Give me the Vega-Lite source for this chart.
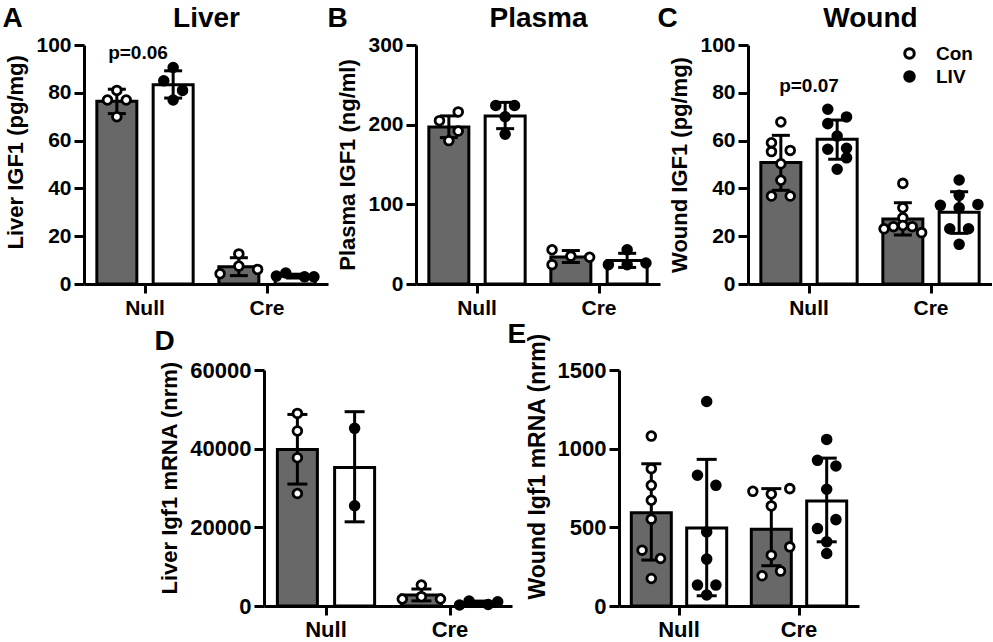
{
  "$schema": "https://vega.github.io/schema/vega-lite/v6.json",
  "background": "white",
  "padding": {"left": 2, "top": 4, "right": 0, "bottom": 0},
  "config": {
    "font": "Liberation Sans",
    "view": {"stroke": null},
    "axis": {"domainColor": "black", "domainWidth": 3, "tickColor": "black", "tickWidth": 3, "labelFont": "Liberation Sans", "labelFontWeight": "bold", "labelFontSize": 21, "labelColor": "black", "titleFont": "Liberation Sans", "titleFontWeight": "bold", "titleFontSize": 22, "titleColor": "black", "grid": false},
    "axisX": {"tickSize": 9, "labelPadding": 4, "labelAngle": 0},
    "axisY": {"tickSize": 10, "labelPadding": 3, "titlePadding": 8}
  },
  "datasets": {
    "A_pts": [
      {"cat": "Null", "group": "Con", "col": "Con", "v": 81},
      {"cat": "Null", "group": "Con", "col": "Con-1", "v": 77},
      {"cat": "Null", "group": "Con", "col": "Con+1", "v": 77},
      {"cat": "Null", "group": "Con", "col": "Con", "v": 70},
      {"cat": "Null", "group": "LIV", "col": "LIV", "v": 90.6},
      {"cat": "Null", "group": "LIV", "col": "LIV-1", "v": 85},
      {"cat": "Null", "group": "LIV", "col": "LIV+1", "v": 81},
      {"cat": "Null", "group": "LIV", "col": "LIV", "v": 77},
      {"cat": "Cre", "group": "Con", "col": "Con", "v": 12.6},
      {"cat": "Cre", "group": "Con", "col": "Con", "v": 7.5},
      {"cat": "Cre", "group": "Con", "col": "Con-2", "v": 4.3},
      {"cat": "Cre", "group": "Con", "col": "Con+2", "v": 6.1},
      {"cat": "Cre", "group": "LIV", "col": "LIV-2", "v": 3.3},
      {"cat": "Cre", "group": "LIV", "col": "LIV-1", "v": 4.6},
      {"cat": "Cre", "group": "LIV", "col": "LIV+1", "v": 3.0},
      {"cat": "Cre", "group": "LIV", "col": "LIV+2", "v": 3.0}
    ],
    "A_sum": [
      {"cat": "Null", "group": "Con", "mean": 76.5, "lo": 71.3, "hi": 81.5},
      {"cat": "Null", "group": "LIV", "mean": 83.4, "lo": 77.8, "hi": 89.2},
      {"cat": "Cre", "group": "Con", "mean": 7.2, "lo": 3.5, "hi": 11.0},
      {"cat": "Cre", "group": "LIV", "mean": 3.3, "lo": 2.5, "hi": 4.1}
    ],
    "A_p": [{"cat": "Null", "label": "p=0.06", "v": 94}],
    "B_pts": [
      {"cat": "Null", "group": "Con", "col": "Con+1", "v": 216},
      {"cat": "Null", "group": "Con", "col": "Con-1", "v": 205},
      {"cat": "Null", "group": "Con", "col": "Con+1", "v": 192},
      {"cat": "Null", "group": "Con", "col": "Con", "v": 180},
      {"cat": "Null", "group": "LIV", "col": "LIV-1", "v": 224},
      {"cat": "Null", "group": "LIV", "col": "LIV+1", "v": 224},
      {"cat": "Null", "group": "LIV", "col": "LIV", "v": 210},
      {"cat": "Null", "group": "LIV", "col": "LIV", "v": 188},
      {"cat": "Cre", "group": "Con", "col": "Con-2", "v": 43},
      {"cat": "Cre", "group": "Con", "col": "Con", "v": 35},
      {"cat": "Cre", "group": "Con", "col": "Con+2", "v": 33.6},
      {"cat": "Cre", "group": "Con", "col": "Con-2", "v": 24.3},
      {"cat": "Cre", "group": "LIV", "col": "LIV", "v": 43},
      {"cat": "Cre", "group": "LIV", "col": "LIV-2", "v": 24.3},
      {"cat": "Cre", "group": "LIV", "col": "LIV", "v": 24.3},
      {"cat": "Cre", "group": "LIV", "col": "LIV+2", "v": 26.4}
    ],
    "B_sum": [
      {"cat": "Null", "group": "Con", "mean": 197, "lo": 183.8, "hi": 211},
      {"cat": "Null", "group": "LIV", "mean": 211, "lo": 195, "hi": 228},
      {"cat": "Cre", "group": "Con", "mean": 34, "lo": 27, "hi": 42},
      {"cat": "Cre", "group": "LIV", "mean": 29.5, "lo": 20.8, "hi": 38.5}
    ],
    "C_pts": [
      {"cat": "Null", "group": "Con", "col": "Con", "v": 67.8},
      {"cat": "Null", "group": "Con", "col": "Con-1", "v": 59.1},
      {"cat": "Null", "group": "Con", "col": "Con-1", "v": 55.4},
      {"cat": "Null", "group": "Con", "col": "Con+1", "v": 55.9},
      {"cat": "Null", "group": "Con", "col": "Con", "v": 50.3},
      {"cat": "Null", "group": "Con", "col": "Con", "v": 43.4},
      {"cat": "Null", "group": "Con", "col": "Con-1", "v": 36.8},
      {"cat": "Null", "group": "Con", "col": "Con+1", "v": 36.8},
      {"cat": "Null", "group": "LIV", "col": "LIV-1", "v": 73.1},
      {"cat": "Null", "group": "LIV", "col": "LIV+1", "v": 69.9},
      {"cat": "Null", "group": "LIV", "col": "LIV-1", "v": 67.1},
      {"cat": "Null", "group": "LIV", "col": "LIV", "v": 61.9},
      {"cat": "Null", "group": "LIV", "col": "LIV-1", "v": 56.4},
      {"cat": "Null", "group": "LIV", "col": "LIV+1", "v": 56.8},
      {"cat": "Null", "group": "LIV", "col": "LIV+1", "v": 52.8},
      {"cat": "Null", "group": "LIV", "col": "LIV", "v": 48},
      {"cat": "Cre", "group": "Con", "col": "Con", "v": 42.1},
      {"cat": "Cre", "group": "Con", "col": "Con", "v": 31.9},
      {"cat": "Cre", "group": "Con", "col": "Con", "v": 27.7},
      {"cat": "Cre", "group": "Con", "col": "Con-2", "v": 23.1},
      {"cat": "Cre", "group": "Con", "col": "Con-1", "v": 24},
      {"cat": "Cre", "group": "Con", "col": "Con", "v": 24.5},
      {"cat": "Cre", "group": "Con", "col": "Con+1", "v": 24},
      {"cat": "Cre", "group": "Con", "col": "Con+2", "v": 21.5},
      {"cat": "Cre", "group": "LIV", "col": "LIV", "v": 43.5},
      {"cat": "Cre", "group": "LIV", "col": "LIV", "v": 37.1},
      {"cat": "Cre", "group": "LIV", "col": "LIV-2", "v": 32.9},
      {"cat": "Cre", "group": "LIV", "col": "LIV", "v": 31.9},
      {"cat": "Cre", "group": "LIV", "col": "LIV+2", "v": 33.3},
      {"cat": "Cre", "group": "LIV", "col": "LIV-1", "v": 23.1},
      {"cat": "Cre", "group": "LIV", "col": "LIV+1", "v": 23.1},
      {"cat": "Cre", "group": "LIV", "col": "LIV", "v": 16.6}
    ],
    "C_sum": [
      {"cat": "Null", "group": "Con", "mean": 50.8, "lo": 39.2, "hi": 62.2},
      {"cat": "Null", "group": "LIV", "mean": 60.6, "lo": 52.2, "hi": 68.6},
      {"cat": "Cre", "group": "Con", "mean": 27.2, "lo": 20.5, "hi": 34.0},
      {"cat": "Cre", "group": "LIV", "mean": 30.0, "lo": 21.2, "hi": 38.6}
    ],
    "C_p": [{"cat": "Null", "label": "p=0.07", "v": 80.5}],
    "D_pts": [
      {"cat": "Null", "group": "Con", "col": "Con", "v": 48970},
      {"cat": "Null", "group": "Con", "col": "Con", "v": 44500},
      {"cat": "Null", "group": "Con", "col": "Con", "v": 37700},
      {"cat": "Null", "group": "Con", "col": "Con", "v": 28600},
      {"cat": "Null", "group": "LIV", "col": "LIV", "v": 45160},
      {"cat": "Null", "group": "LIV", "col": "LIV", "v": 25500},
      {"cat": "Cre", "group": "Con", "col": "Con", "v": 5340},
      {"cat": "Cre", "group": "Con", "col": "Con-2", "v": 1780},
      {"cat": "Cre", "group": "Con", "col": "Con", "v": 2370},
      {"cat": "Cre", "group": "Con", "col": "Con+2", "v": 1780},
      {"cat": "Cre", "group": "LIV", "col": "LIV-2", "v": 250},
      {"cat": "Cre", "group": "LIV", "col": "LIV-1", "v": 1270},
      {"cat": "Cre", "group": "LIV", "col": "LIV+1", "v": 400},
      {"cat": "Cre", "group": "LIV", "col": "LIV+2", "v": 1090}
    ],
    "D_sum": [
      {"cat": "Null", "group": "Con", "mean": 39800, "lo": 31000, "hi": 48700},
      {"cat": "Null", "group": "LIV", "mean": 35200, "lo": 21400, "hi": 49400},
      {"cat": "Cre", "group": "Con", "mean": 2800, "lo": 1300, "hi": 4320},
      {"cat": "Cre", "group": "LIV", "mean": 750, "lo": 250, "hi": 1250}
    ],
    "E_pts": [
      {"cat": "Null", "group": "Con", "col": "Con", "v": 1080},
      {"cat": "Null", "group": "Con", "col": "Con", "v": 873},
      {"cat": "Null", "group": "Con", "col": "Con", "v": 767},
      {"cat": "Null", "group": "Con", "col": "Con", "v": 672},
      {"cat": "Null", "group": "Con", "col": "Con", "v": 552},
      {"cat": "Null", "group": "Con", "col": "Con-1", "v": 355},
      {"cat": "Null", "group": "Con", "col": "Con+1", "v": 302},
      {"cat": "Null", "group": "Con", "col": "Con", "v": 175},
      {"cat": "Null", "group": "LIV", "col": "LIV", "v": 1300},
      {"cat": "Null", "group": "LIV", "col": "LIV-1", "v": 831},
      {"cat": "Null", "group": "LIV", "col": "LIV+1", "v": 767},
      {"cat": "Null", "group": "LIV", "col": "LIV", "v": 471},
      {"cat": "Null", "group": "LIV", "col": "LIV", "v": 298},
      {"cat": "Null", "group": "LIV", "col": "LIV-1", "v": 133},
      {"cat": "Null", "group": "LIV", "col": "LIV+1", "v": 133},
      {"cat": "Null", "group": "LIV", "col": "LIV", "v": 70},
      {"cat": "Cre", "group": "Con", "col": "Con-2", "v": 729},
      {"cat": "Cre", "group": "Con", "col": "Con", "v": 712},
      {"cat": "Cre", "group": "Con", "col": "Con+2", "v": 746},
      {"cat": "Cre", "group": "Con", "col": "Con", "v": 636},
      {"cat": "Cre", "group": "Con", "col": "Con+2", "v": 376},
      {"cat": "Cre", "group": "Con", "col": "Con", "v": 323},
      {"cat": "Cre", "group": "Con", "col": "Con-1", "v": 192},
      {"cat": "Cre", "group": "Con", "col": "Con+1", "v": 222},
      {"cat": "Cre", "group": "LIV", "col": "LIV", "v": 1059},
      {"cat": "Cre", "group": "LIV", "col": "LIV-1", "v": 926},
      {"cat": "Cre", "group": "LIV", "col": "LIV+1", "v": 890},
      {"cat": "Cre", "group": "LIV", "col": "LIV", "v": 742},
      {"cat": "Cre", "group": "LIV", "col": "LIV-1", "v": 492},
      {"cat": "Cre", "group": "LIV", "col": "LIV+1", "v": 549},
      {"cat": "Cre", "group": "LIV", "col": "LIV", "v": 408},
      {"cat": "Cre", "group": "LIV", "col": "LIV", "v": 334}
    ],
    "E_sum": [
      {"cat": "Null", "group": "Con", "mean": 592, "lo": 292, "hi": 904},
      {"cat": "Null", "group": "LIV", "mean": 495, "lo": 65, "hi": 932},
      {"cat": "Cre", "group": "Con", "mean": 488, "lo": 256, "hi": 746},
      {"cat": "Cre", "group": "LIV", "mean": 668, "lo": 408, "hi": 940}
    ]
  },
  "spacing": 2,
  "resolve": {"scale": {"fill": "independent", "xOffset": "independent"}, "legend": {"fill": "independent"}},
  "vconcat": [
    {
      "bounds": "flush",
      "spacing": 88,
      "resolve": {"scale": {"fill": "independent", "xOffset": "independent"}, "legend": {"fill": "independent"}},
      "hconcat": [
        {
          "width": 244, "height": 239,
          "resolve": {"axis": {"x": "independent", "y": "independent"}},
          "layer": [
            {"data": {"name": "A_sum"}, "mark": {"type": "bar", "width": 40, "stroke": "black", "strokeWidth": 3},
             "encoding": {
               "x": {"field": "cat", "type": "nominal", "sort": ["Null", "Cre"], "scale": {"domain": ["Null", "Cre"], "paddingInner": 0, "paddingOuter": 0}, "axis": {"orient": "bottom", "title": null}},
               "xOffset": {"field": "group", "type": "nominal", "scale": {"domain": ["Con-2", "Con-1", "Con", "Con+1", "Con+2", "gap", "LIV-2", "LIV-1", "LIV", "LIV+1", "LIV+2"], "paddingInner": 0, "paddingOuter": 1.535}},
               "y": {"field": "mean", "type": "quantitative", "scale": {"domain": [0, 100], "nice": false}, "axis": {"orient": "left", "title": "Liver IGF1 (pg/mg)", "values": [0, 20, 40, 60, 80, 100], "titleAlign": "left", "titleY": 204}},
               "fill": {"condition": {"test": "datum.group === 'Con'", "value": "#686868"}, "value": "white"}
             }},
            {"data": {"name": "A_sum"}, "mark": {"type": "rule", "strokeWidth": 3, "color": "black"},
             "encoding": {
               "x": {"field": "cat", "type": "nominal", "sort": ["Null", "Cre"], "axis": {"orient": "top", "title": "Liver", "domain": false, "ticks": false, "labels": false, "titleX": 122, "titleY": -19, "titleAlign": "center", "titleBaseline": "alphabetic", "titleFontSize": 28}},
               "xOffset": {"field": "group", "type": "nominal"},
               "y": {"field": "lo", "type": "quantitative", "axis": {"orient": "right", "title": "A", "domain": false, "ticks": false, "labels": false, "titleAngle": 0, "titleX": -326, "titleY": -19, "titleAlign": "left", "titleBaseline": "alphabetic", "titleFontSize": 28}},
               "y2": {"field": "hi"}}},
            {"data": {"name": "A_sum"}, "mark": {"type": "tick", "thickness": 3, "size": 18, "color": "black", "opacity": 1},
             "encoding": {"x": {"field": "cat", "type": "nominal", "sort": ["Null", "Cre"], "axis": null}, "xOffset": {"field": "group", "type": "nominal"}, "y": {"field": "hi", "type": "quantitative", "axis": null}}},
            {"data": {"name": "A_sum"}, "mark": {"type": "tick", "thickness": 3, "size": 18, "color": "black", "opacity": 1},
             "encoding": {"x": {"field": "cat", "type": "nominal", "sort": ["Null", "Cre"], "axis": null}, "xOffset": {"field": "group", "type": "nominal"}, "y": {"field": "lo", "type": "quantitative", "axis": null}}},
            {"data": {"name": "A_pts"}, "mark": {"type": "point", "shape": "circle", "filled": true, "size": 76, "stroke": "black", "strokeWidth": 2.8, "opacity": 1},
             "encoding": {"x": {"field": "cat", "type": "nominal", "sort": ["Null", "Cre"], "axis": null}, "xOffset": {"field": "col", "type": "nominal"}, "y": {"field": "v", "type": "quantitative", "axis": null},
               "fill": {"condition": {"test": "datum.group === 'Con'", "value": "white"}, "value": "black"}}},
            {"data": {"name": "A_p"}, "mark": {"type": "text", "fontSize": 19, "fontWeight": "bold", "baseline": "alphabetic", "color": "black", "dx": -7},
             "encoding": {"x": {"field": "cat", "type": "nominal", "sort": ["Null", "Cre"], "axis": null}, "y": {"field": "v", "type": "quantitative", "axis": null}, "text": {"field": "label"}}}
          ]
        },
        {
          "width": 244, "height": 239,
          "resolve": {"axis": {"x": "independent", "y": "independent"}},
          "layer": [
            {"data": {"name": "B_sum"}, "mark": {"type": "bar", "width": 40, "stroke": "black", "strokeWidth": 3},
             "encoding": {
               "x": {"field": "cat", "type": "nominal", "sort": ["Null", "Cre"], "scale": {"domain": ["Null", "Cre"], "paddingInner": 0, "paddingOuter": 0}, "axis": {"orient": "bottom", "title": null}},
               "xOffset": {"field": "group", "type": "nominal", "scale": {"domain": ["Con-2", "Con-1", "Con", "Con+1", "Con+2", "gap", "LIV-2", "LIV-1", "LIV", "LIV+1", "LIV+2"], "paddingInner": 0, "paddingOuter": 1.535}},
               "y": {"field": "mean", "type": "quantitative", "scale": {"domain": [0, 300], "nice": false}, "axis": {"orient": "left", "title": "Plasma IGF1 (ng/ml)", "values": [0, 100, 200, 300]}},
               "fill": {"condition": {"test": "datum.group === 'Con'", "value": "#686868"}, "value": "white"}
             }},
            {"data": {"name": "B_sum"}, "mark": {"type": "rule", "strokeWidth": 3, "color": "black"},
             "encoding": {
               "x": {"field": "cat", "type": "nominal", "sort": ["Null", "Cre"], "axis": {"orient": "top", "title": "Plasma", "domain": false, "ticks": false, "labels": false, "titleX": 122, "titleY": -19, "titleAlign": "center", "titleBaseline": "alphabetic", "titleFontSize": 28}},
               "xOffset": {"field": "group", "type": "nominal"},
               "y": {"field": "lo", "type": "quantitative", "axis": {"orient": "right", "title": "B", "domain": false, "ticks": false, "labels": false, "titleAngle": 0, "titleX": -333, "titleY": -19, "titleAlign": "left", "titleBaseline": "alphabetic", "titleFontSize": 28}},
               "y2": {"field": "hi"}}},
            {"data": {"name": "B_sum"}, "mark": {"type": "tick", "thickness": 3, "size": 18, "color": "black", "opacity": 1},
             "encoding": {"x": {"field": "cat", "type": "nominal", "sort": ["Null", "Cre"], "axis": null}, "xOffset": {"field": "group", "type": "nominal"}, "y": {"field": "hi", "type": "quantitative", "axis": null}}},
            {"data": {"name": "B_sum"}, "mark": {"type": "tick", "thickness": 3, "size": 18, "color": "black", "opacity": 1},
             "encoding": {"x": {"field": "cat", "type": "nominal", "sort": ["Null", "Cre"], "axis": null}, "xOffset": {"field": "group", "type": "nominal"}, "y": {"field": "lo", "type": "quantitative", "axis": null}}},
            {"data": {"name": "B_pts"}, "mark": {"type": "point", "shape": "circle", "filled": true, "size": 76, "stroke": "black", "strokeWidth": 2.8, "opacity": 1},
             "encoding": {"x": {"field": "cat", "type": "nominal", "sort": ["Null", "Cre"], "axis": null}, "xOffset": {"field": "col", "type": "nominal"}, "y": {"field": "v", "type": "quantitative", "axis": null},
               "fill": {"condition": {"test": "datum.group === 'Con'", "value": "white"}, "value": "black"}}}
          ]
        },
        {
          "width": 244, "height": 239,
          "resolve": {"axis": {"x": "independent", "y": "independent"}},
          "layer": [
            {"data": {"name": "C_sum"}, "mark": {"type": "bar", "width": 40, "stroke": "black", "strokeWidth": 3},
             "encoding": {
               "x": {"field": "cat", "type": "nominal", "sort": ["Null", "Cre"], "scale": {"domain": ["Null", "Cre"], "paddingInner": 0, "paddingOuter": 0}, "axis": {"orient": "bottom", "title": null}},
               "xOffset": {"field": "group", "type": "nominal", "scale": {"domain": ["Con-2", "Con-1", "Con", "Con+1", "Con+2", "gap", "LIV-2", "LIV-1", "LIV", "LIV+1", "LIV+2"], "paddingInner": 0, "paddingOuter": 1.535}},
               "y": {"field": "mean", "type": "quantitative", "scale": {"domain": [0, 100], "nice": false}, "axis": {"orient": "left", "title": "Wound IGF1 (pg/mg)", "values": [0, 20, 40, 60, 80, 100]}},
               "fill": {"condition": {"test": "datum.group === 'Con'", "value": "#686868"}, "value": "white"}
             }},
            {"data": {"name": "C_sum"}, "mark": {"type": "rule", "strokeWidth": 3, "color": "black"},
             "encoding": {
               "x": {"field": "cat", "type": "nominal", "sort": ["Null", "Cre"], "axis": {"orient": "top", "title": "Wound", "domain": false, "ticks": false, "labels": false, "titleX": 122, "titleY": -19, "titleAlign": "center", "titleBaseline": "alphabetic", "titleFontSize": 28}},
               "xOffset": {"field": "group", "type": "nominal"},
               "y": {"field": "lo", "type": "quantitative", "axis": {"orient": "right", "title": "C", "domain": false, "ticks": false, "labels": false, "titleAngle": 0, "titleX": -335, "titleY": -19, "titleAlign": "left", "titleBaseline": "alphabetic", "titleFontSize": 28}},
               "y2": {"field": "hi"}}},
            {"data": {"name": "C_sum"}, "mark": {"type": "tick", "thickness": 3, "size": 18, "color": "black", "opacity": 1},
             "encoding": {"x": {"field": "cat", "type": "nominal", "sort": ["Null", "Cre"], "axis": null}, "xOffset": {"field": "group", "type": "nominal"}, "y": {"field": "hi", "type": "quantitative", "axis": null}}},
            {"data": {"name": "C_sum"}, "mark": {"type": "tick", "thickness": 3, "size": 18, "color": "black", "opacity": 1},
             "encoding": {"x": {"field": "cat", "type": "nominal", "sort": ["Null", "Cre"], "axis": null}, "xOffset": {"field": "group", "type": "nominal"}, "y": {"field": "lo", "type": "quantitative", "axis": null}}},
            {"data": {"name": "C_pts"}, "mark": {"type": "point", "shape": "circle", "filled": true, "size": 76, "stroke": "black", "strokeWidth": 2.8, "opacity": 1},
             "encoding": {"x": {"field": "cat", "type": "nominal", "sort": ["Null", "Cre"], "axis": null}, "xOffset": {"field": "col", "type": "nominal"}, "y": {"field": "v", "type": "quantitative", "axis": null},
               "fill": {"field": "group", "type": "nominal", "scale": {"domain": ["Con", "LIV"], "range": ["white", "black"]},
                 "legend": {"title": null, "orient": "none", "legendX": 152, "legendY": -1, "symbolType": "circle", "symbolSize": 90, "symbolStrokeColor": "black", "symbolStrokeWidth": 3, "symbolOpacity": 1, "labelFont": "Liberation Sans", "labelFontSize": 19, "labelFontWeight": "bold", "labelColor": "black", "labelOffset": 17, "rowPadding": 0}}}},
            {"data": {"name": "C_p"}, "mark": {"type": "text", "fontSize": 19, "fontWeight": "bold", "baseline": "alphabetic", "color": "black"},
             "encoding": {"x": {"field": "cat", "type": "nominal", "sort": ["Null", "Cre"], "axis": null}, "y": {"field": "v", "type": "quantitative", "axis": null}, "text": {"field": "label"}}}
          ]
        }
      ]
    },
    {
      "bounds": "flush",
      "spacing": 107,
      "resolve": {"scale": {"fill": "independent", "xOffset": "independent"}, "legend": {"fill": "independent"}},
      "hconcat": [
        {"width": 73, "height": 10, "data": {"values": []}, "mark": {"type": "point"}, "encoding": {}},
        {
          "width": 248, "height": 236,
          "resolve": {"axis": {"x": "independent", "y": "independent"}},
          "layer": [
            {"data": {"name": "D_sum"}, "mark": {"type": "bar", "width": 40, "stroke": "black", "strokeWidth": 3},
             "encoding": {
               "x": {"field": "cat", "type": "nominal", "sort": ["Null", "Cre"], "scale": {"domain": ["Null", "Cre"], "paddingInner": 0, "paddingOuter": 0}, "axis": {"orient": "bottom", "title": null, "labelFontSize": 22}},
               "xOffset": {"field": "group", "type": "nominal", "scale": {"domain": ["Con-2", "Con-1", "Con", "Con+1", "Con+2", "gap", "LIV-2", "LIV-1", "LIV", "LIV+1", "LIV+2"], "paddingInner": 0, "paddingOuter": 1.535}},
               "y": {"field": "mean", "type": "quantitative", "scale": {"domain": [0, 60000], "nice": false}, "axis": {"orient": "left", "title": "Liver Igf1 mRNA (nrm)", "values": [0, 20000, 40000, 60000], "format": "d", "labelFontSize": 22, "titleFontSize": 22, "titleAlign": "left", "titleY": 224}},
               "fill": {"condition": {"test": "datum.group === 'Con'", "value": "#686868"}, "value": "white"}
             }},
            {"data": {"name": "D_sum"}, "mark": {"type": "rule", "strokeWidth": 3, "color": "black"},
             "encoding": {
               "x": {"field": "cat", "type": "nominal", "sort": ["Null", "Cre"], "axis": null},
               "xOffset": {"field": "group", "type": "nominal"},
               "y": {"field": "lo", "type": "quantitative", "axis": {"orient": "right", "title": "D", "domain": false, "ticks": false, "labels": false, "titleAngle": 0, "titleX": -358, "titleY": -21, "titleAlign": "left", "titleBaseline": "alphabetic", "titleFontSize": 28}},
               "y2": {"field": "hi"}}},
            {"data": {"name": "D_sum"}, "mark": {"type": "tick", "thickness": 3, "size": 20, "color": "black", "opacity": 1},
             "encoding": {"x": {"field": "cat", "type": "nominal", "sort": ["Null", "Cre"], "axis": null}, "xOffset": {"field": "group", "type": "nominal"}, "y": {"field": "hi", "type": "quantitative", "axis": null}}},
            {"data": {"name": "D_sum"}, "mark": {"type": "tick", "thickness": 3, "size": 20, "color": "black", "opacity": 1},
             "encoding": {"x": {"field": "cat", "type": "nominal", "sort": ["Null", "Cre"], "axis": null}, "xOffset": {"field": "group", "type": "nominal"}, "y": {"field": "lo", "type": "quantitative", "axis": null}}},
            {"data": {"name": "D_pts"}, "mark": {"type": "point", "shape": "circle", "filled": true, "size": 76, "stroke": "black", "strokeWidth": 2.8, "opacity": 1},
             "encoding": {"x": {"field": "cat", "type": "nominal", "sort": ["Null", "Cre"], "axis": null}, "xOffset": {"field": "col", "type": "nominal"}, "y": {"field": "v", "type": "quantitative", "axis": null},
               "fill": {"condition": {"test": "datum.group === 'Con'", "value": "white"}, "value": "black"}}}
          ]
        },
        {
          "width": 240, "height": 236,
          "resolve": {"axis": {"x": "independent", "y": "independent"}},
          "layer": [
            {"data": {"name": "E_sum"}, "mark": {"type": "bar", "width": 40, "stroke": "black", "strokeWidth": 3},
             "encoding": {
               "x": {"field": "cat", "type": "nominal", "sort": ["Null", "Cre"], "scale": {"domain": ["Null", "Cre"], "paddingInner": 0, "paddingOuter": 0}, "axis": {"orient": "bottom", "title": null, "labelFontSize": 22}},
               "xOffset": {"field": "group", "type": "nominal", "scale": {"domain": ["Con-2", "Con-1", "Con", "Con+1", "Con+2", "gap", "LIV-2", "LIV-1", "LIV", "LIV+1", "LIV+2"], "paddingInner": 0, "paddingOuter": 1.535}},
               "y": {"field": "mean", "type": "quantitative", "scale": {"domain": [0, 1500], "nice": false}, "axis": {"orient": "left", "title": "Wound Igf1 mRNA (nrm)", "values": [0, 500, 1000, 1500], "format": "d", "labelFontSize": 22, "titleFontSize": 23, "titleAlign": "left", "titleY": 229}},
               "fill": {"condition": {"test": "datum.group === 'Con'", "value": "#686868"}, "value": "white"}
             }},
            {"data": {"name": "E_sum"}, "mark": {"type": "rule", "strokeWidth": 3, "color": "black"},
             "encoding": {
               "x": {"field": "cat", "type": "nominal", "sort": ["Null", "Cre"], "axis": null},
               "xOffset": {"field": "group", "type": "nominal"},
               "y": {"field": "lo", "type": "quantitative", "axis": {"orient": "right", "title": "E", "domain": false, "ticks": false, "labels": false, "titleAngle": 0, "titleX": -352, "titleY": -28, "titleAlign": "left", "titleBaseline": "alphabetic", "titleFontSize": 28}},
               "y2": {"field": "hi"}}},
            {"data": {"name": "E_sum"}, "mark": {"type": "tick", "thickness": 3, "size": 20, "color": "black", "opacity": 1},
             "encoding": {"x": {"field": "cat", "type": "nominal", "sort": ["Null", "Cre"], "axis": null}, "xOffset": {"field": "group", "type": "nominal"}, "y": {"field": "hi", "type": "quantitative", "axis": null}}},
            {"data": {"name": "E_sum"}, "mark": {"type": "tick", "thickness": 3, "size": 20, "color": "black", "opacity": 1},
             "encoding": {"x": {"field": "cat", "type": "nominal", "sort": ["Null", "Cre"], "axis": null}, "xOffset": {"field": "group", "type": "nominal"}, "y": {"field": "lo", "type": "quantitative", "axis": null}}},
            {"data": {"name": "E_pts"}, "mark": {"type": "point", "shape": "circle", "filled": true, "size": 76, "stroke": "black", "strokeWidth": 2.8, "opacity": 1},
             "encoding": {"x": {"field": "cat", "type": "nominal", "sort": ["Null", "Cre"], "axis": null}, "xOffset": {"field": "col", "type": "nominal"}, "y": {"field": "v", "type": "quantitative", "axis": null},
               "fill": {"condition": {"test": "datum.group === 'Con'", "value": "white"}, "value": "black"}}}
          ]
        }
      ]
    }
  ]
}
